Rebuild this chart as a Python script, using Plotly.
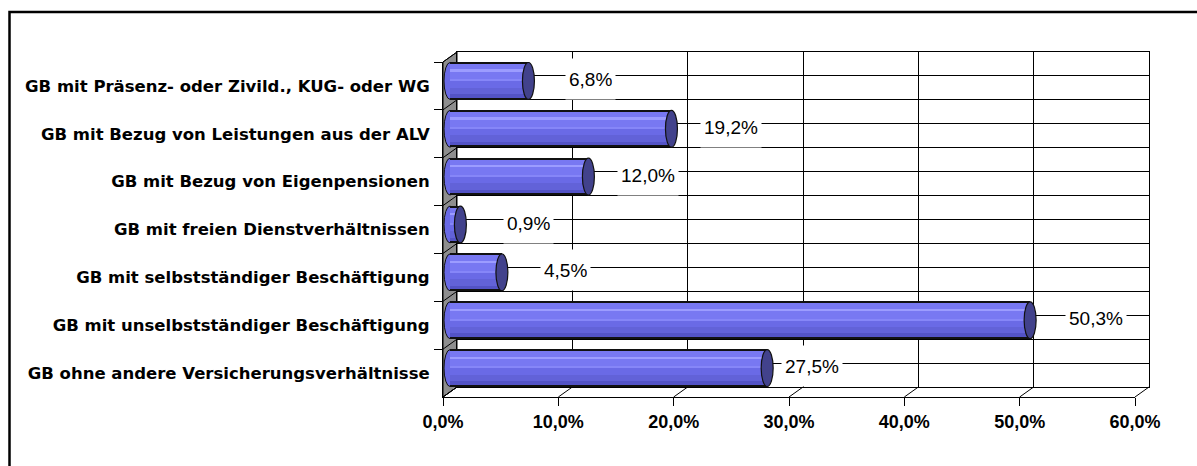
import plotly.graph_objects as go

# --- data -----------------------------------------------------------------
categories = [
    "GB mit Präsenz- oder Zivild., KUG- oder WG",
    "GB mit Bezug von Leistungen aus der ALV",
    "GB mit Bezug von Eigenpensionen",
    "GB mit freien Dienstverhältnissen",
    "GB mit selbstständiger Beschäftigung",
    "GB mit unselbstständiger Beschäftigung",
    "GB ohne andere Versicherungsverhältnisse",
]
shares = [6.8, 19.2, 12.0, 0.9, 4.5, 50.3, 27.5]
x_ticks = [0, 10, 20, 30, 40, 50, 60]
x_tick_text = ["0,0%", "10,0%", "20,0%", "30,0%", "40,0%", "50,0%", "60,0%"]

# --- layout geometry (pixels) ----------------------------------------------
W, H = 1197, 466
FRONT_X0, FRONT_X1 = 443, 1135      # front plane: 0 % .. 60 %
FRONT_Y0, FRONT_Y1 = 62, 397        # front plane: top .. floor
DEPTH_X, DEPTH_Y = 14, 10           # offset of the back wall
X_MAX = 60
BAR_T = 0.77                        # cylinder thickness (category units)
CAP_R = 0.52                        # half width of the end ellipses (x units)

label_dx = [62, 60, 60, 68, 64, 66, 45]   # label offset from bar end, px


def fx(p):
    return p / W


def fy(p):
    return 1 - p / H


n = len(categories)
idx = list(range(n))
unit = (FRONT_X1 - FRONT_X0) / X_MAX

# back wall, bars (mid depth) and front plane
bx0, bx1 = FRONT_X0 + DEPTH_X, FRONT_X1 + DEPTH_X
by0, by1 = FRONT_Y0 - DEPTH_Y, FRONT_Y1 - DEPTH_Y
mx0, mx1 = FRONT_X0 + DEPTH_X / 2, FRONT_X1 + DEPTH_X / 2
my0, my1 = FRONT_Y0 - DEPTH_Y / 2, FRONT_Y1 - DEPTH_Y / 2

fig = go.Figure()

# invisible anchor so the back-wall subplot gets drawn
fig.add_trace(go.Scatter(x=[None], y=[None], xaxis="x", yaxis="y",
                         showlegend=False, hoverinfo="skip"))

# cylinder bodies built from overlaid horizontal bands
bands = [
    ("#6a6ae6", 0.00, 1.00),
    ("#7878f2", 0.04, 0.46),
    ("#9c9cff", 0.20, 0.25),
    ("#8686f8", 0.47, 0.51),
    ("#6262d8", 0.68, 0.96),
    ("#5353c6", 0.86, 0.97),
    ("#111111", 0.00, 0.035),
    ("#111111", 0.965, 1.00),
]
for color, a, b in bands:
    fig.add_trace(go.Bar(
        x=shares, y=idx, orientation="h",
        width=[(b - a) * BAR_T] * n,
        offset=[-BAR_T / 2 + a * BAR_T] * n,
        marker=dict(color=color, line=dict(width=0)),
        xaxis="x2", yaxis="y2", showlegend=False, hoverinfo="skip",
    ))

fig.add_trace(go.Scatter(x=[0] * n, y=categories, mode="markers",
                         marker=dict(opacity=0), xaxis="x3", yaxis="y3",
                         showlegend=False, hoverinfo="skip"))

shapes = []

# outer frame
shapes.append(dict(type="rect", xref="paper", yref="paper",
                   x0=fx(9.5), x1=fx(W + 20), y0=fy(H + 20), y1=fy(12),
                   line=dict(color="black", width=2.5), layer="below"))

# left side wall
shapes.append(dict(
    type="path", xref="paper", yref="paper", layer="below",
    path=(f"M {fx(FRONT_X0)} {fy(FRONT_Y0)} L {fx(bx0)} {fy(by0)} "
          f"L {fx(bx0)} {fy(by1)} L {fx(FRONT_X0)} {fy(FRONT_Y1)} Z"),
    fillcolor="#8e8e8e", line=dict(color="black", width=1)))
row_h = (FRONT_Y1 - FRONT_Y0) / n
for k in range(n + 1):
    yf = FRONT_Y0 + k * row_h
    shapes.append(dict(type="line", xref="paper", yref="paper", layer="below",
                       x0=fx(FRONT_X0), y0=fy(yf), x1=fx(bx0), y1=fy(yf - DEPTH_Y),
                       line=dict(color="black", width=1)))

# floor edges at each x tick
for t in x_ticks:
    xf = FRONT_X0 + t * unit
    shapes.append(dict(type="line", xref="paper", yref="paper", layer="below",
                       x0=fx(xf), y0=fy(FRONT_Y1), x1=fx(xf + DEPTH_X), y1=fy(by1),
                       line=dict(color="black", width=1)))

# rounded starts and dark end caps of the cylinders
for i, v in enumerate(shares):
    shapes.append(dict(type="circle", xref="x2", yref="y2", layer="below",
                       x0=-CAP_R, x1=CAP_R, y0=i - BAR_T / 2, y1=i + BAR_T / 2,
                       fillcolor="#6a6ae6", line=dict(color="#111111", width=1)))
    shapes.append(dict(type="circle", xref="x2", yref="y2", layer="above",
                       x0=v - CAP_R, x1=v + CAP_R, y0=i - BAR_T / 2, y1=i + BAR_T / 2,
                       fillcolor="#42428c", line=dict(color="#111111", width=1.2)))

annotations = []
for i, v in enumerate(shares):
    annotations.append(dict(
        x=v, y=i, xref="x2", yref="y2", showarrow=False,
        text=f"{v:.1f}".replace(".", ",") + "%",
        xshift=label_dx[i], yshift=2, xanchor="center", yanchor="middle",
        bgcolor="white", height=34, borderpad=3,
        font=dict(family="Liberation Sans, Arial, sans-serif", size=19, color="black"),
    ))

grid_rows = [k / 2 for k in range(2 * n + 1)]

fig.update_layout(
    width=W, height=H,
    margin=dict(l=0, r=0, t=0, b=0, pad=0, autoexpand=False),
    paper_bgcolor="white", plot_bgcolor="rgba(0,0,0,0)",
    barmode="overlay", bargap=0,
    showlegend=False,
    shapes=shapes, annotations=annotations,
    # back wall
    xaxis=dict(domain=[fx(bx0), fx(bx1)], range=[0, X_MAX], anchor="y",
               tickvals=x_ticks, showticklabels=False, ticks="",
               showgrid=True, gridcolor="black", gridwidth=1, zeroline=False,
               showline=True, mirror=True, linecolor="black", linewidth=1,
               automargin=False, fixedrange=True),
    yaxis=dict(domain=[fy(by1), fy(by0)], range=[0, n], anchor="x",
               tickvals=grid_rows, showticklabels=False, ticks="",
               showgrid=True, gridcolor="black", gridwidth=1, zeroline=False,
               showline=True, mirror=True, linecolor="black", linewidth=1,
               automargin=False, fixedrange=True),
    # cylinders at mid depth
    xaxis2=dict(domain=[fx(mx0 - CAP_R * 2 * unit), fx(mx1)],
                range=[-CAP_R * 2, X_MAX], anchor="y2", visible=False,
                automargin=False, fixedrange=True),
    yaxis2=dict(domain=[fy(my1), fy(my0)], range=[n - 0.5, -0.5], anchor="x2",
                visible=False, automargin=False, fixedrange=True),
    # front plane with the axis labels
    xaxis3=dict(domain=[fx(FRONT_X0), fx(FRONT_X1)], range=[0, X_MAX], anchor="y3",
                tickvals=x_ticks, ticktext=x_tick_text, ticks="outside",
                ticklen=8, tickcolor="black", showline=True, linecolor="black",
                linewidth=1, showgrid=False, zeroline=False, automargin=False,
                tickfont=dict(family="Liberation Sans, Arial, sans-serif", size=18,
                              color="black", weight="bold"),
                fixedrange=True),
    yaxis3=dict(domain=[fy(FRONT_Y1), fy(FRONT_Y0)], anchor="x3", type="category",
                categoryorder="array", categoryarray=categories,
                range=[n - 0.5, -0.5], tickson="boundaries", ticks="outside",
                ticklen=8, tickcolor="black", showline=True, linecolor="black",
                linewidth=1, showgrid=False, zeroline=False, automargin=False,
                ticklabelstandoff=9,
                tickfont=dict(family="DejaVu Sans, sans-serif", size=16.5,
                              color="black", weight="bold"),
                fixedrange=True),
)

fig.write_html("out.html")
